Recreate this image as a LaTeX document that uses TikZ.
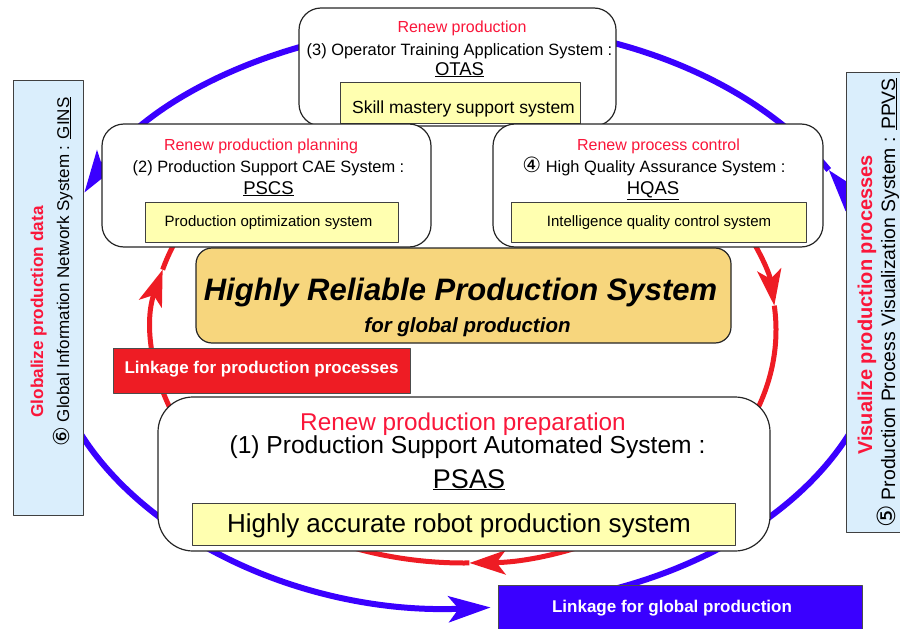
\documentclass[tikz,border=0pt]{standalone}
\usepackage{fontspec}
\setmainfont{Liberation Sans}
\newfontfamily\circfont{DejaVu Sans}
\usetikzlibrary{arrows.meta}
\definecolor{renewred}{RGB}{250,22,58}
\definecolor{ringred}{RGB}{238,28,36}
\definecolor{ringblue}{RGB}{58,0,255}
\definecolor{sideblue}{RGB}{218,238,252}
\definecolor{noteyellow}{RGB}{255,255,176}
\definecolor{coregold}{RGB}{247,214,125}
\newcommand\fsz[1]{\fontsize{#1}{#1}\selectfont}
\newcommand\circnum[2]{{\circfont\fontsize{#1}{#1}\selectfont #2}}
\begin{document}
\begin{tikzpicture}[x=1pt, y=1pt, line join=round,
  sysbox/.style={draw=black!85, line width=1.2pt, fill=white, rounded corners=22pt, inner sep=0pt},
  notebox/.style={draw=black!75, line width=0.8pt, fill=noteyellow, inner sep=0pt},
  sidebox/.style={draw=black!75, line width=1pt, fill=sideblue, inner sep=0pt},
  tagbox/.style={draw=black!70, line width=0.8pt, inner sep=0pt},
  txt/.style={inner sep=0pt, anchor=base},
  tagtxt/.style={txt, text=white, font=\bfseries\fsz{17}},
  blueloop/.style={draw=ringblue, line width=6pt},
  redloop/.style={draw=ringred, line width=5pt},
  bluetip/.style={-{Stealth[length=42pt,width=26pt,inset=10pt]}},
  redtip/.style={-{Stealth[length=36pt,width=24pt,inset=9pt]}}]
\useasboundingbox (0,0) rectangle (900,-629);
\clip (0,0) rectangle (900,-629);
% the two loops
\coordinate (bluehub) at (465,-316);
\coordinate (redhub) at (464,-330);
\draw[blueloop, bluetip] ([shift={(96:420 and 292)}]bluehub) arc[start angle=96, end angle=155, x radius=420, y radius=292];
\draw[blueloop, bluetip] ([shift={(200:420 and 292)}]bluehub) arc[start angle=200, end angle=273.5, x radius=420, y radius=292];
\draw[blueloop] ([shift={(285:420 and 292)}]bluehub) arc[start angle=285, end angle=345, x radius=420, y radius=292];
\draw[blueloop, bluetip] ([shift={(15:420 and 292)}]bluehub) arc[start angle=15, end angle=30, x radius=420, y radius=292];
\draw[blueloop] ([shift={(30:420 and 292)}]bluehub) arc[start angle=30, end angle=96, x radius=420, y radius=292];
\draw[redloop, redtip] ([shift={(205:312 and 233)}]redhub) arc[start angle=205, end angle=165, x radius=312, y radius=233];
\draw[redloop] ([shift={(165:312 and 233)}]redhub) arc[start angle=165, end angle=150, x radius=312, y radius=233];
\draw[redloop, redtip] ([shift={(30:312 and 233)}]redhub) arc[start angle=30, end angle=6, x radius=312, y radius=233];
\draw[redloop, redtip] ([shift={(6:312 and 233)}]redhub) arc[start angle=6, end angle=-89, x radius=312, y radius=233];
\draw[redloop] ([shift={(-89:312 and 233)}]redhub) arc[start angle=-89, end angle=-155, x radius=312, y radius=233];
% side boxes
\node[sidebox, minimum width=70pt, minimum height=435pt] (ginsbox) at (48,-297.5) {};
\node[txt, rotate=90, text=renewred, font=\bfseries\fsz{17.2}] (ginsgoal) at (43,-312) {Globalize production data};
\node[txt, rotate=90, font=\fsz{17}] (ginsname) at (69,-272) {\circnum{22}{⑥} Global Information Network System : \underline{GINS}};
\node[sidebox, minimum width=60pt, minimum height=460pt] (ppvsbox) at (876,-302) {};
\node[txt, rotate=90, text=renewred, font=\bfseries\fsz{20}] (ppvsgoal) at (872,-305) {Visualize production processes};
\node[txt, rotate=90, font=\fsz{19.4}] (ppvsname) at (895,-303) {\circnum{25}{⑤} Production Process Visualization System : \underline{PPVS}};
% (3) OTAS
\node[sysbox, minimum width=317pt, minimum height=118pt] (otasbox) at (457.5,-67) {};
\node[txt, text=renewred, font=\fsz{16}] (otasgoal) at (462,-32) {Renew production};
\node[txt, font=\fsz{16.4}] (otasname) at (459.5,-55) {(3) Operator Training Application System :};
\node[txt, font=\fsz{18.5}] (otasabbr) at (459.5,-75) {\underline{OTAS}};
\node[notebox, minimum width=240pt, minimum height=41pt] (otasnote) at (460,-102.5) {};
\node[txt, font=\fsz{17.5}] (otasnotetxt) at (463.5,-113) {Skill mastery support system};
% (2) PSCS
\node[sysbox, minimum width=329pt, minimum height=123pt] (pscsbox) at (266.5,-185.5) {};
\node[txt, text=renewred, font=\fsz{16}] (pscsgoal) at (261,-150) {Renew production planning};
\node[txt, font=\fsz{16.4}] (pscsname) at (268.5,-172) {(2) Production Support CAE System :};
\node[txt, font=\fsz{18.5}] (pscsabbr) at (268.5,-194) {\underline{PSCS}};
\node[notebox, minimum width=253pt, minimum height=40pt] (pscsnote) at (271.5,-222) {};
\node[txt, font=\fsz{15}] (pscsnotetxt) at (268.5,-226) {Production optimization system};
% (4) HQAS
\node[sysbox, minimum width=330pt, minimum height=123pt] (hqasbox) at (658,-185.5) {};
\node[txt, text=renewred, font=\fsz{16}] (hqasgoal) at (658.5,-150) {Renew process control};
\node[txt, font=\fsz{16.4}] (hqasname) at (654,-172) {\circnum{21}{④} High Quality Assurance System :};
\node[txt, font=\fsz{18.5}] (hqasabbr) at (653,-194) {\underline{HQAS}};
\node[notebox, minimum width=295pt, minimum height=40pt] (hqasnote) at (658.5,-222) {};
\node[txt, font=\fsz{15}] (hqasnotetxt) at (659,-226) {Intelligence quality control system};
% core
\node[sysbox, fill=coregold, rounded corners=16pt, minimum width=535pt, minimum height=95pt] (corebox) at (463.5,-295.5) {};
\node[txt, font=\bfseries\itshape\fsz{31}] (coretitle) at (460.5,-300) {Highly Reliable Production System};
\node[txt, font=\bfseries\itshape\fsz{20.5}] (coresub) at (467.5,-332) {for global production};
% linkage tags
\node[tagbox, fill=ringred, minimum width=297pt, minimum height=45pt] (proctag) at (261.5,-370.5) {};
\node[tagtxt] (proctagtxt) at (261.5,-373) {Linkage for production processes};
% (1) PSAS
\node[sysbox, rounded corners=35pt, minimum width=612pt, minimum height=154pt] (psasbox) at (464,-474) {};
\node[txt, text=renewred, font=\fsz{24.3}] (psasgoal) at (463,-430) {Renew production preparation};
\node[txt, font=\fsz{24.6}] (psasname) at (467.5,-453) {(1) Production Support Automated System :};
\node[txt, font=\fsz{27}] (psasabbr) at (469,-488) {\underline{PSAS}};
\node[notebox, minimum width=543pt, minimum height=42pt] (psasnote) at (463.5,-524) {};
\node[txt, font=\fsz{26}] (psasnotetxt) at (459,-532) {Highly accurate robot production system};
\node[tagbox, fill=ringblue, minimum width=364pt, minimum height=50pt] (globtag) at (680,-610) {};
\node[tagtxt] (globtagtxt) at (672,-612) {Linkage for global production};
\end{tikzpicture}
\end{document}
